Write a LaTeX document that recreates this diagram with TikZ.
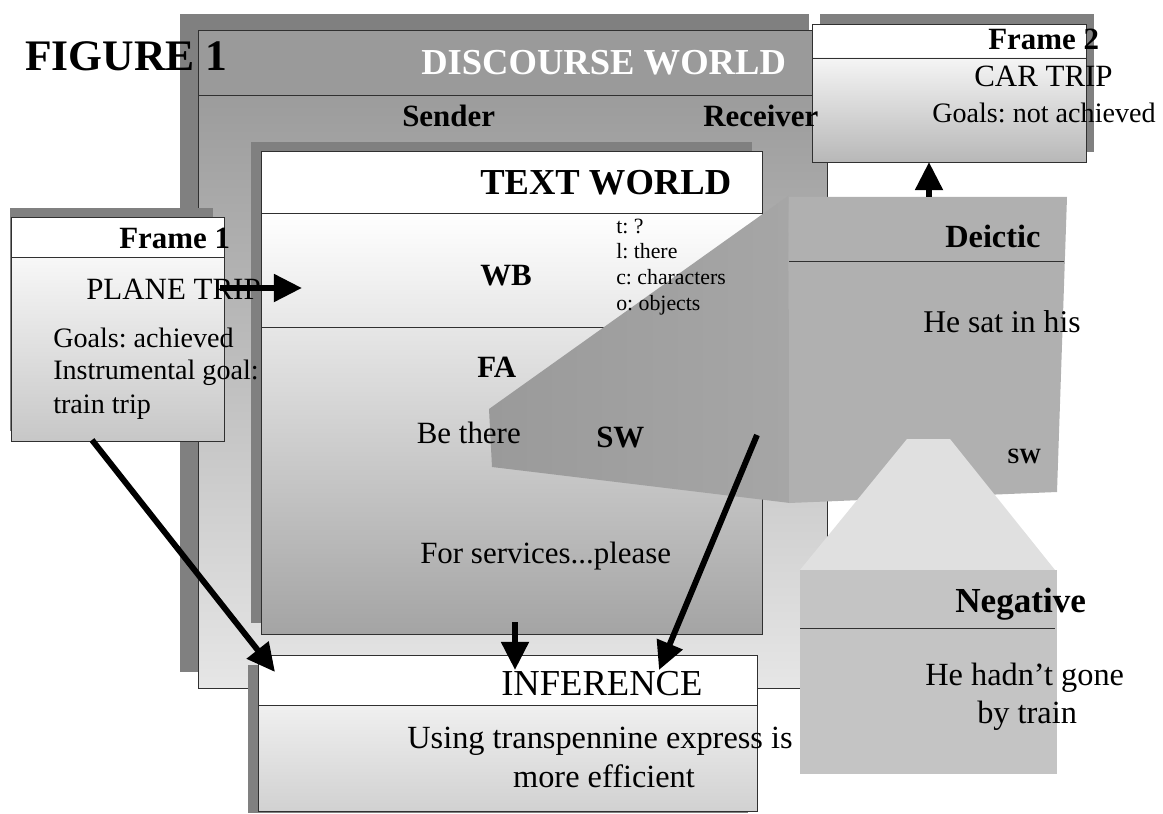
\documentclass[tikz,border=0pt]{standalone}
\usepackage{fontspec}
\setmainfont{Liberation Serif}
\frenchspacing
\usetikzlibrary{arrows.meta, backgrounds}
\definecolor{shadowgray}{HTML}{808080}
\definecolor{linegray}{HTML}{303030}
\definecolor{dwhead}{HTML}{9A9A9A}
\definecolor{dwtop}{HTML}{9C9C9C}
\definecolor{dwmid}{HTML}{B0B0B0}
\definecolor{dwbottom}{HTML}{E6E6E6}
\definecolor{twbottom}{HTML}{A4A4A4}
\definecolor{projleft}{HTML}{9A9A9A}
\definecolor{projright}{HTML}{A6A6A6}
\definecolor{deicticgray}{HTML}{B0B0B0}
\definecolor{neglight}{HTML}{E0E0E0}
\definecolor{neggray}{HTML}{C4C4C4}
\tikzstyle{boxshadow} = [%
					fill = shadowgray]
\tikzstyle{boxline} = [%
					draw = linegray,
					line width = 0.6]
\tikzstyle{bigarrow} = [%
					line width = 4.2pt,
					-{Triangle[length=20pt, width=19pt]}]

\begin{document}
\begin{tikzpicture}[x=0.025cm, y=-0.025cm,
	lab/.style={inner sep=0pt, anchor=base west, font=\fontsize{#1}{#1}\selectfont},
	blab/.style={inner sep=0pt, anchor=base west, font=\fontsize{#1}{#1}\selectfont\bfseries}]
		
		\useasboundingbox (0,0) rectangle (1163,814);
		
		% Coordinates
		\coordinate (planeout) at (220,288);
		\coordinate (wbin) at (302,288);
		\coordinate (frameout) at (92,440);
		\coordinate (infleft) at (275,672);
		\coordinate (twout) at (515,622);
		\coordinate (infmid) at (515,670);
		\coordinate (swout) at (757,435);
		\coordinate (infright) at (659,670);
		\coordinate (deicticout) at (929,197);
		\coordinate (frameIIin) at (929,162);
		
		% Nodes
		\node[blab=31] (figure) at (25,71) {FIGURE 1};
		%% Discourse world
		\node[blab=26] [text=white] (discourse) at (421,75) {DISCOURSE WORLD};
		\node[blab=22] (sender) at (402,127) {Sender};
		\node[blab=22] (receiver) at (703,127) {Receiver};
		%% Text world
		\node[blab=26] (textworld) at (480,195) {TEXT WORLD};
		\node[blab=22] (wb) at (480,285) {WB};
		\node[lab=15.5] (slott) at (616,233) {t: ?};
		\node[lab=15.5] (slotl) at (616,258) {l: there};
		\node[lab=15.5] (slotc) at (616,284) {c: characters};
		\node[lab=15.5] (sloto) at (616,310) {o: objects};
		\node[blab=22] (fa) at (477,377) {FA};
		\node[lab=22] [anchor=base east] (bethere) at (521,443) {Be there};
		\node[blab=22] (swtext) at (596,447) {SW};
		\node[lab=22] (services) at (420,563) {For services...please};
		%% Deictic
		\node[blab=23] (deictic) at (945,247) {Deictic};
		\node[lab=22.5] (hesat) at (923,332) {He sat in his};
		\node[blab=15.5] (swdeictic) at (1007,463) {SW};
		%% Negative
		\node[blab=25] (negative) at (955,612) {Negative};
		\node[lab=23] (hadnt) at (925,685) {He hadn’t gone};
		\node[lab=23] (bytrain) at (977,723) {by train};
		%% Frame 2
		\node[blab=22] (frameII) at (988,50) {Frame 2};
		\node[lab=22] (cartrip) at (974,87) {CAR TRIP};
		\node[lab=20] (goalsII) at (932,123) {Goals: not achieved};
		%% Frame 1
		\node[blab=22] (frameI) at (119,248) {Frame 1};
		\node[lab=22] (planetrip) at (86,299) {PLANE TRIP};
		\node[lab=20] (goalsI) at (53,347) {Goals: achieved};
		\node[lab=20] (instrumental) at (53,379) {Instrumental goal:};
		\node[lab=20] (traintrip) at (53,413) {train trip};
		%% Inference
		\node[lab=26] (inference) at (501,695) {INFERENCE};
		\node[lab=23] [anchor=base] (using) at (600,748) {Using transpennine express is};
		\node[lab=23] [anchor=base] (efficient) at (604,787) {more efficient};
		
		% Arrows
		\draw[bigarrow] (planeout) -- (wbin);
		\draw[bigarrow] (frameout) -- (infleft);
		\draw[bigarrow] (twout) -- (infmid);
		\draw[bigarrow] (swout) -- (infright);
		\draw[bigarrow] (deicticout) -- (frameIIin);
		
		\begin{scope}[on background layer]
			% Discourse world
			\fill[boxshadow] (180,14) rectangle (809,672);
			\shade[top color=dwtop, middle color=dwmid, bottom color=dwbottom] (198,95) rectangle (827,688);
			\fill[dwhead] (198,30) rectangle (827,95);
			\draw[boxline] (198,30) rectangle (827,688);
			\draw[boxline] (198,95) -- (827,95);
			% Text world
			\fill[boxshadow] (251,142) rectangle (752,623);
			\fill[white] (261,151) rectangle (762,213);
			\shade[top color=white, bottom color=twbottom] (261,213) rectangle (762,634);
			\draw[boxline] (261,151) rectangle (762,634);
			\draw[boxline] (261,213) -- (762,213);
			\draw[boxline] (261,327) -- (762,327);
			% Deictic
			\shade[left color=projleft, right color=projright] (489,409) -- (788,196) -- (790,503) -- (492,467) -- cycle;
			\fill[deicticgray] (789,197) -- (1067,197) -- (1057,492) -- (789,503) -- cycle;
			\draw[boxline] (789,261) -- (1064,261);
			% Negative
			\fill[neglight] (907,439) -- (950,439) -- (1055,570) -- (800,570) -- cycle;
			\fill[neggray] (800,570) rectangle (1057,774);
			\draw[boxline] (800,628) -- (1055,628);
			% Frame 2
			\fill[boxshadow] (820,14) rectangle (1094,152);
			\fill[white] (812,24) rectangle (1086,58);
			\shade[top color=black!4, bottom color=black!28] (812,58) rectangle (1086,162);
			\draw[boxline] (812,24) rectangle (1086,162);
			\draw[boxline] (812,58) -- (1086,58);
			% Frame 1
			\fill[boxshadow] (10,208) rectangle (213,431);
			\fill[white] (11,217) rectangle (224,257);
			\shade[top color=black!3, bottom color=black!22] (11,257) rectangle (224,441);
			\draw[boxline] (11,217) rectangle (224,441);
			\draw[boxline] (11,257) -- (224,257);
			% Inference
			\fill[boxshadow] (248,665) rectangle (748,813);
			\fill[white] (258,655) rectangle (757,705);
			\shade[top color=black!6, bottom color=black!18] (258,705) rectangle (757,811);
			\draw[boxline] (258,655) rectangle (757,811);
			\draw[boxline] (258,705) -- (757,705);
		\end{scope}
	\end{tikzpicture}
\end{document}
